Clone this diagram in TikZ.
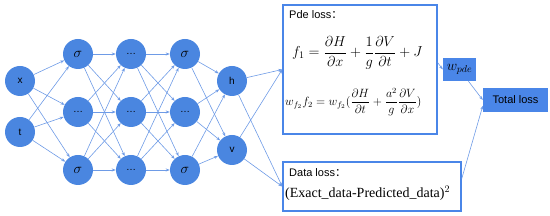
\documentclass[tikz,border=0pt]{standalone}
\usepackage{fontspec}
\setmainfont{Liberation Serif}
\setsansfont{Liberation Sans}
\newfontfamily\cjk{Noto Sans CJK SC}
\usetikzlibrary{arrows.meta,positioning,calc}
\definecolor{Node}{HTML}{4A86E0}
\definecolor{Wire}{HTML}{6E9BE6}
\definecolor{Frame}{HTML}{4A86E8}

\begin{document}
\begin{tikzpicture}[x=1pt,y=-1pt,
  neuron/.style={circle,fill=Node,minimum size=30pt,inner sep=0pt,font=\sffamily\fontsize{10}{11}\selectfont},
  wire/.style={-{Stealth[length=4pt,width=3pt]},line width=0.6pt,draw=Wire},
  lossbox/.style={draw=Frame,line width=1.5pt,inner sep=0pt},
  tagbox/.style={fill=Frame,inner sep=0pt}
]
\useasboundingbox (0,0) rectangle (550,216);
% network
\node[neuron] (x) at (20,81) {x};
\node[neuron] (t) at (20,132) {t};
\node[neuron] (a1) at (78,54) {\Large$\sigma$};
\node[neuron] (a2) at (78,112) {\dots};
\node[neuron] (a3) at (78,170) {\Large$\sigma$};
\node[neuron] (b1) at (131,54) {\dots};
\node[neuron] (b2) at (131,112) {\dots};
\node[neuron] (b3) at (131,170) {\dots};
\node[neuron] (c1) at (185,54) {\Large$\sigma$};
\node[neuron] (c2) at (185,112) {\dots};
\node[neuron] (c3) at (185,170) {\Large$\sigma$};
\node[neuron] (h) at (232,81) {h};
\node[neuron] (v) at (232,150) {v};
\foreach \i in {x,t} \foreach \j in {1,2,3} \draw[wire] (\i) -- (a\j);
\foreach \i in {1,2,3} \foreach \j in {1,2,3} {
  \draw[wire] (a\i) -- (b\j);
  \draw[wire] (b\i) -- (c\j);
}
\foreach \i in {1,2,3} \foreach \j in {h,v} \draw[wire] (c\i) -- (\j);
% losses
\node[lossbox,minimum width=154pt,minimum height=129pt] (pde) at (360,69.5) {};
\node[anchor=west,inner sep=0pt,font=\sffamily\fontsize{11}{13}\selectfont] (pdetitle) at (289,15) {Pde loss\cjk{：}};
\node[anchor=west,inner sep=0pt] (fone) at (292,53) {\fontsize{14}{16}\selectfont$\displaystyle f_1=\frac{\partial H}{\partial x}+\frac{1}{g}\frac{\partial V}{\partial t}+J$};
\node[anchor=west,inner sep=0pt] (ftwo) at (285,102) {\fontsize{12}{14}\selectfont$\displaystyle w_{f_2}f_2=w_{f_2}(\frac{\partial H}{\partial t}+\frac{a^2}{g}\frac{\partial V}{\partial x})$};
\node[lossbox,minimum width=178pt,minimum height=49pt] (data) at (372,186.5) {};
\node[anchor=west,inner sep=0pt,font=\sffamily\fontsize{11}{13}\selectfont] (datatitle) at (289,173) {Data loss\cjk{：}};
\node[anchor=west,inner sep=0pt] (dataexpr) at (285,193) {\fontsize{14}{16}\selectfont(Exact\_data-Predicted\_data)$^2$};
\node[tagbox,minimum width=33pt,minimum height=23pt] (wpde) at (459.5,69.5) {\Large$w_{pde}$};
\node[tagbox,minimum width=65pt,minimum height=24pt,font=\sffamily\fontsize{11}{13}\selectfont] (total) at (515.5,100) {Total loss};
\foreach \o in {h,v} {
  \draw[wire] (\o) -- (pde.west);
  \draw[wire] (\o) -- (data.west);
}
\draw[wire] (pde.5) -- (wpde.west);
\draw[wire] (wpde) -- (total.west);
\draw[wire] (data.5) -- (total.190);
\end{tikzpicture}
\end{document}
